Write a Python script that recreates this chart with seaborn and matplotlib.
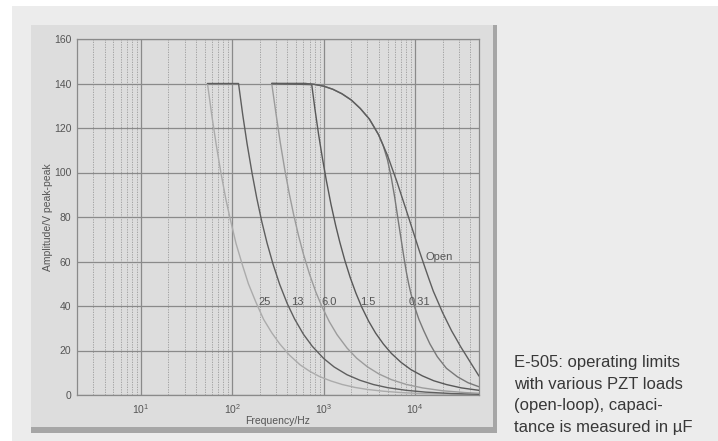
import pandas as pd
import matplotlib
matplotlib.use("Agg")
import matplotlib.pyplot as plt
from matplotlib.patches import Rectangle
from matplotlib.ticker import LogLocator, NullFormatter
import seaborn as sns

# Operating limits (frequency in Hz, amplitude in V peak-peak)
freq_25 = [53.5, 60, 67, 75, 85, 95, 110, 130, 150, 180, 220, 270, 330, 420, 550, 700,
           900, 1200, 1600, 2200, 3000, 4500, 7000, 12000, 20000, 35000, 50000]
amp_25 = [140, 125, 112, 100, 88, 79, 68, 58, 50, 42, 34, 28, 23, 18, 13.6, 10.7,
          8.3, 6.3, 4.7, 3.4, 2.5, 1.7, 1.1, 0.6, 0.4, 0.2, 0.15]

freq_13 = [53.5, 117, 130, 145, 165, 185, 210, 240, 280, 330, 400, 480, 600, 750, 1000,
           1300, 1800, 2500, 3500, 5000, 8000, 13000, 25000, 50000]
amp_13 = [140, 140, 126, 113, 99.4, 88.6, 78, 68.3, 58.6, 49.7, 41, 34.2, 27.3, 21.9, 16.4,
          12.6, 9.1, 6.6, 4.7, 3.3, 2.1, 1.3, 0.66, 0.33]

freq_6 = [270, 300, 335, 375, 420, 470, 530, 600, 700, 820, 950, 1150, 1400, 1800, 2300,
          3000, 4000, 5500, 8000, 12000, 20000, 35000, 50000]
amp_6 = [140, 126.7, 113.4, 101.3, 90.5, 80.9, 71.7, 63.3, 54.3, 46.3, 40, 33, 27.1, 21.1, 16.5,
         12.7, 9.5, 6.9, 4.75, 3.2, 1.9, 1.1, 0.76]

freq_15 = [270, 740, 800, 880, 970, 1070, 1200, 1350, 1500, 1700, 1950, 2250, 2600, 3100,
           3700, 4500, 5500, 7000, 9000, 12000, 16000, 22000, 32000, 50000]
amp_15 = [140, 139.5, 128.8, 117, 106.2, 96.3, 85.8, 76.3, 68.7, 60.6, 52.8, 45.8, 39.6, 33.2,
          27.8, 22.9, 18.7, 14.7, 11.4, 8.6, 6.4, 4.7, 3.2, 2.1]

freq_031 = [270, 631, 794, 1000, 1260, 1580, 2000, 2510, 3160, 3550, 3980, 4470, 5000, 5500,
            6000, 6500, 7000, 7500, 8000, 8500, 9000, 10000, 11000, 12400, 14500, 17500,
            22000, 29000, 38000, 50000]
amp_031 = [140, 140, 139.6, 138.8, 137.4, 135.4, 132.6, 128.8, 124, 120.5, 117, 112.2, 105.5, 97.5,
           88.5, 79, 70.5, 62.5, 55.5, 50, 45.5, 39, 34, 29, 23, 17.2, 12, 8.2, 5.5, 3.7]

freq_open = [270, 631, 794, 1000, 1260, 1580, 2000, 2510, 3160, 3550, 3980, 4470, 5010, 5620,
             6310, 7080, 7940, 8910, 10000, 11200, 12600, 14100, 15800, 17800, 20000, 22400,
             25100, 28200, 31600, 35500, 39800, 44700, 50000]
amp_open = [140, 140, 139.6, 138.8, 137.4, 135.4, 132.6, 128.8, 124, 120.5, 117, 112.2, 107.5,
            101.7, 96, 89.7, 83.5, 77.1, 70.7, 64.4, 58.2, 52.4, 46.7, 41.8, 37, 32.9, 28.8,
            25.2, 21.6, 18.3, 15, 11.7, 8.5]

loads = ['25', '13', '6.0', '1.5', '0.31', 'Open']
curves = [(freq_25, amp_25), (freq_13, amp_13), (freq_6, amp_6),
          (freq_15, amp_15), (freq_031, amp_031), (freq_open, amp_open)]

frames = []
for name, (f, a) in zip(loads, curves):
    frames.append(pd.DataFrame({'Frequency': f, 'Amplitude': a, 'Load': name}))
df = pd.concat(frames, ignore_index=True)

line_colors = {'25': '#ababab', '13': '#5e5e5e', '6.0': '#9c9c9c',
               '1.5': '#585858', '0.31': '#787878', 'Open': '#5e5e5e'}

# where the curve names sit (Hz, V)
label_pos = {'25': (191, 41.8), '13': (445, 41.8), '6.0': (951, 41.8),
             '1.5': (2506, 41.8), '0.31': (8510, 41.8), 'Open': (12970, 62)}

sns.set_style('white')
plt.rcParams['font.family'] = ['Liberation Sans', 'DejaVu Sans']

W, H = 718, 441
fig = plt.figure(figsize=(W / 100, H / 100), dpi=100)
fig.patch.set_facecolor('white')

def px_rect(x0, y0, x1, y1, color, z):
    fig.add_artist(Rectangle((x0 / W, 1 - y1 / H), (x1 - x0) / W, (y1 - y0) / H,
                             transform=fig.transFigure, facecolor=color,
                             edgecolor='none', zorder=z))

# page background, panel shadow and panel
px_rect(12, 6, W, H, '#ececec', -5)
px_rect(31, 25, 497, 433, '#a6a6a6', -4)
px_rect(31, 25, 493, 427, '#dddddd', -3)

ax = fig.add_axes([77 / W, 1 - 395 / H, (479 - 77) / W, (395 - 39) / H])
ax.set_facecolor('#dddddd')
ax.set_xscale('log')

sns.lineplot(data=df, x='Frequency', y='Amplitude', hue='Load', palette=line_colors,
             estimator=None, sort=False, legend=False, linewidth=1.0, ax=ax, zorder=3)

ax.set_xlim(2, 5e4)
ax.set_ylim(0, 160)
ax.set_yticks(range(0, 161, 20))
ax.set_xticks([10, 100, 1000, 10000])
ax.xaxis.set_minor_locator(LogLocator(base=10, subs=range(2, 10), numticks=20))
ax.xaxis.set_minor_formatter(NullFormatter())

ax.grid(which='major', color='#8a8a8a', linewidth=0.9, linestyle='-')
ax.grid(which='minor', axis='x', color='#9a9a9a', linewidth=0.6, linestyle=(0, (1.5, 1.5)))
ax.set_axisbelow(True)
for s in ax.spines.values():
    s.set_color('#8a8a8a')
    s.set_linewidth(0.9)

ax.tick_params(which='both', length=0, labelsize=7.5, labelcolor='#555555')
ax.tick_params(axis='y', pad=4)
ax.tick_params(axis='x', pad=5)

ax.set_xlabel('Frequency/Hz', fontsize=7.5, color='#555555', labelpad=0)
ax.set_ylabel('Amplitude/V peak-peak', fontsize=7.5, color='#555555', labelpad=1)

for name in loads:
    x, y = label_pos[name]
    ax.text(x, y, name, fontsize=8, color='#555555', ha='left', va='center', zorder=4)

fig.text(514 / W, 1 - 355 / H,
         'E-505: operating limits\nwith various PZT loads\n(open-loop), capaci-\ntance is measured in µF',
         fontsize=12, color='#383838', ha='left', va='top', linespacing=1.55)

fig.savefig('out.png', dpi=100, facecolor=fig.get_facecolor())
